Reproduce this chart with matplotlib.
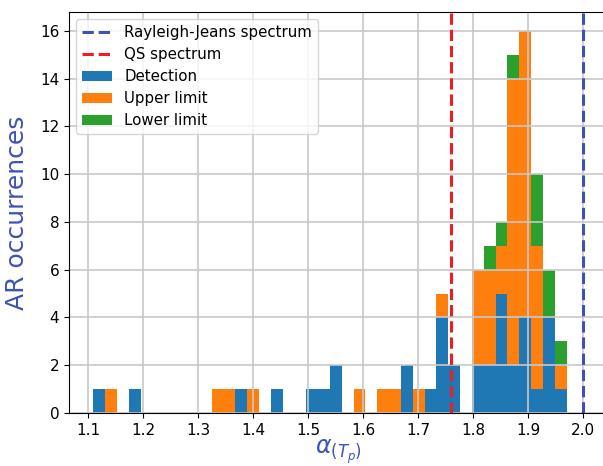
import numpy as np
import matplotlib
matplotlib.use("Agg")
import matplotlib.pyplot as plt

# histogram of alpha_(Tp): 40 bins between min and max of the sample
alpha_min, alpha_max, n_bins = 1.11, 1.97, 40

# counts per bin, bottom to top of the stack
detection = [1, 0, 0, 1, 0, 0, 0, 0, 0, 0,
             0, 0, 1, 0, 0, 1, 0, 0, 1, 1,
             2, 0, 0, 0, 0, 0, 2, 0, 1, 4,
             2, 0, 2, 2, 5, 2, 4, 1, 4, 1]
upper_limit = [0, 1, 0, 0, 0, 0, 0, 0, 0, 0,
               1, 1, 0, 1, 0, 0, 0, 0, 0, 0,
               0, 0, 1, 0, 1, 1, 0, 1, 0, 1,
               0, 0, 4, 4, 2, 12, 12, 6, 0, 1]
lower_limit = [0, 0, 0, 0, 0, 0, 0, 0, 0, 0,
               0, 0, 0, 0, 0, 0, 0, 0, 0, 0,
               0, 0, 0, 0, 0, 0, 0, 0, 0, 0,
               0, 0, 0, 1, 1, 1, 0, 3, 2, 1]
labels = ["Detection", "Upper limit", "Lower limit"]

rj_alpha = 2.0   # Rayleigh-Jeans spectrum
qs_alpha = 1.76  # QS spectrum

edges = np.linspace(alpha_min, alpha_max, n_bins + 1)
centers = 0.5 * (edges[:-1] + edges[1:])

fig = plt.figure(figsize=(6.03, 4.66), dpi=100)
ax = fig.add_axes([0.1144, 0.1137, 0.8931, 0.8612])

l1 = ax.axvline(rj_alpha, color="#3f51b5", ls="--", lw=2.2, label="Rayleigh-Jeans spectrum")
l2 = ax.axvline(qs_alpha, color="#ee1c25", ls="--", lw=2.2, label="QS spectrum")
_, _, patches = ax.hist([centers] * 3, bins=edges,
                        weights=[detection, upper_limit, lower_limit],
                        stacked=True, color=["tab:blue", "tab:orange", "tab:green"],
                        label=labels)

ax.set_xlim(1.0655, 2.0445)
ax.set_ylim(0, 16.8)
ax.set_xticks(np.arange(1.1, 2.01, 0.1))
ax.set_yticks(np.arange(0, 17, 2))
ax.tick_params(labelsize=11)
ax.grid(True, color="#c8c8c8", lw=1.2)

ax.set_ylabel("AR occurrences", fontsize=18, color="#3f51b5", labelpad=8)
ax.set_xlabel(r"$\alpha_{(T_p)}$", fontsize=17, color="#3f51b5", labelpad=0)

handles = [l1, l2] + [p[0] for p in patches]
ax.legend(handles, ["Rayleigh-Jeans spectrum", "QS spectrum"] + labels,
          loc="upper left", fontsize=10.8, labelspacing=0.47)

fig.savefig("out.png", dpi=100)
